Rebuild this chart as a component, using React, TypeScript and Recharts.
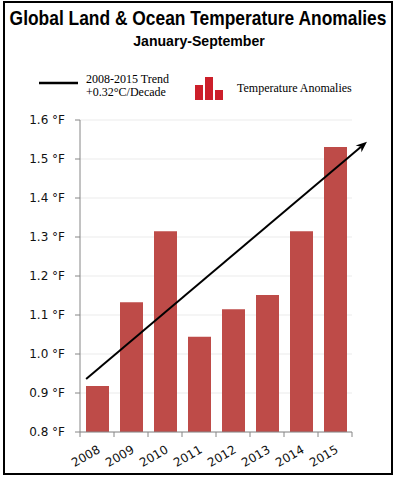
import React from "react";
import {
  ComposedChart,
  Bar,
  XAxis,
  YAxis,
  CartesianGrid,
  ReferenceLine,
} from "recharts";

// values (°F)
const years = [2008, 2009, 2010, 2011, 2012, 2013, 2014, 2015];
const anomalies = [0.918, 1.133, 1.315, 1.044, 1.115, 1.151, 1.315, 1.531];
const yTicks = [0.8, 0.9, 1.0, 1.1, 1.2, 1.3, 1.4, 1.5, 1.6];
// tick marks sit between the years, like the Excel original
const xTicks = [2007.5, 2008.5, 2009.5, 2010.5, 2011.5, 2012.5, 2013.5, 2014.5, 2015.5];
// trend arrow, start and end
const trendX = [2007.68, 2015.94];
const trendY = [0.936, 1.544];

const data = years.map((year, i) => ({ year, temp: anomalies[i] }));

const W = 397;
const H = 479;
const BAND = 34; // px per year on the x axis
const AXIS = "#868686";
const BAR = "#be4b48";
const FONT = "'DejaVu Sans', Verdana, sans-serif";
const TITLE_FONT = "'Liberation Sans', Arial, sans-serif";

function YearTick(props: any) {
  const { x, y, payload } = props;
  const v = payload.value;
  if (v >= 2015.5) return null;
  const tx = x + BAND / 2 + 4;
  const ty = y + 13;
  return (
    <text
      x={tx}
      y={ty}
      textAnchor="end"
      fontSize={12}
      fontFamily={FONT}
      fill="#111"
      transform={`rotate(-30 ${tx} ${ty})`}
    >
      {Math.round(v + 0.5)}
    </text>
  );
}

function TrendArrow(props: any) {
  const { x1, y1, x2, y2 } = props;
  if (x1 == null) return null;
  const ang = Math.atan2(y2 - y1, x2 - x1);
  const len = 11;
  const half = 4.5;
  const bx = x2 - len * Math.cos(ang);
  const by = y2 - len * Math.sin(ang);
  const nx = -Math.sin(ang);
  const ny = Math.cos(ang);
  const mx = x2 - len * 0.7 * Math.cos(ang);
  const my = y2 - len * 0.7 * Math.sin(ang);
  return (
    <g>
      <line x1={x1} y1={y1} x2={mx} y2={my} stroke="#000" strokeWidth={2} />
      <path
        d={`M${x2},${y2} L${bx + nx * half},${by + ny * half} L${mx},${my} L${bx - nx * half},${by - ny * half} Z`}
        fill="#000"
      />
    </g>
  );
}

export default function App() {
  return (
    <div
      style={{
        position: "absolute",
        left: 0,
        top: 0,
        width: W,
        height: H,
        background: "white",
      }}
    >
      <div
        style={{
          position: "absolute",
          left: 3,
          top: 1,
          width: 390,
          height: 474,
          border: "2px solid #000",
          boxSizing: "border-box",
        }}
      />
      <svg
        width={W}
        height={110}
        style={{ position: "absolute", left: 0, top: 0 }}
      >
        {/* smaller font stretched upward, to look like the narrow title face */}
        <g transform="translate(198 25) scale(1 1.2)">
          <text
            x={0}
            y={0}
            textAnchor="middle"
            fontFamily={TITLE_FONT}
            fontWeight="bold"
            fontSize={17.4}
          >
            Global Land &amp; Ocean Temperature Anomalies
          </text>
        </g>
        <g transform="translate(199 46) scale(1 1.06)">
          <text
            x={0}
            y={0}
            textAnchor="middle"
            fontFamily={TITLE_FONT}
            fontWeight="bold"
            fontSize={14.1}
          >
            January-September
          </text>
        </g>
        <line x1={39} y1={83} x2={78} y2={83} stroke="#000" strokeWidth={2.5} />
        <text x={86} y={83} fontFamily="'Liberation Serif', serif" fontSize={12}>
          2008-2015 Trend
        </text>
        <text x={86} y={96} fontFamily="'Liberation Serif', serif" fontSize={12}>
          +0.32°C/Decade
        </text>
        <rect x={195} y={85} width={8} height={15} fill="#cc1f2a" />
        <rect x={205} y={77} width={8} height={23} fill="#cc1f2a" />
        <rect x={215} y={90} width={8} height={10} fill="#cc1f2a" />
        <text x={237} y={92} fontFamily="'Liberation Serif', serif" fontSize={12}>
          Temperature Anomalies
        </text>
      </svg>
      <div style={{ position: "absolute", left: 0, top: 0 }}>
        <ComposedChart
          width={W}
          height={H}
          data={data}
          margin={{ top: 120, right: 45, bottom: 7, left: 0 }}
        >
          <CartesianGrid vertical={false} stroke="#ebebeb" />
          <XAxis
            dataKey="year"
            type="number"
            domain={[2007.5, 2015.5]}
            ticks={xTicks}
            interval={0}
            height={40}
            stroke={AXIS}
            tickSize={5}
            tick={<YearTick />}
            allowDataOverflow
          />
          <YAxis
            type="number"
            domain={[0.8, 1.6]}
            ticks={yTicks}
            interval={0}
            width={80}
            stroke={AXIS}
            tickSize={5}
            tickMargin={10}
            allowDataOverflow
            tickFormatter={(v: number) => `${v.toFixed(1)} °F`}
            tick={{ fill: "#111", fontSize: 12, fontFamily: FONT }}
          />
          <Bar dataKey="temp" fill={BAR} barSize={23} isAnimationActive={false} />
          <ReferenceLine
            segment={[
              { x: trendX[0], y: trendY[0] },
              { x: trendX[1], y: trendY[1] },
            ]}
            ifOverflow="visible"
            stroke="#000"
            strokeWidth={2}
            shape={<TrendArrow />}
          />
        </ComposedChart>
      </div>
    </div>
  );
}
